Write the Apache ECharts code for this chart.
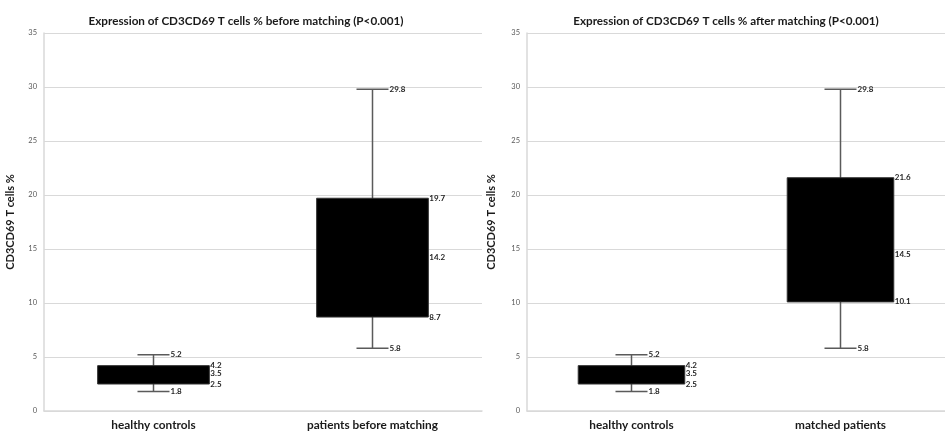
<!DOCTYPE html>
<html><head><meta charset="utf-8">
<script src="https://cdn.jsdelivr.net/npm/echarts@6/dist/echarts.min.js"></script>
<style>html,body{margin:0;padding:0;background:#fff}#c{width:945px;height:431px}</style>
</head><body><div id="c"></div>
<script>
const titles = ['Expression of CD3CD69 T cells % before matching (P<0.001)', 'Expression of CD3CD69 T cells % after matching (P<0.001)'];
const categoriesBefore = ['healthy controls', 'patients before matching'];
const categoriesAfter = ['healthy controls', 'matched patients'];
// [min, q1, median, q3, max]
const healthyStats = [1.8, 2.5, 3.5, 4.2, 5.2];
const beforeStats = [5.8, 8.7, 14.2, 19.7, 29.8];
const matchedStats = [5.8, 10.1, 14.5, 21.6, 29.8];
const yAxisName = 'CD3CD69 T cells %';
const yMin = 0, yMax = 35, yStep = 5;

const FONT = 'Lato, "Liberation Sans", sans-serif';
const chart = echarts.init(document.getElementById('c'), null, {renderer: 'canvas'});

function renderBox(params, api) {
  const cat = api.value(0);
  const v = [api.value(1), api.value(2), api.value(3), api.value(4), api.value(5)];
  const pMin = api.coord([cat, v[0]]);
  const pQ1 = api.coord([cat, v[1]]);
  const pMed = api.coord([cat, v[2]]);
  const pQ3 = api.coord([cat, v[3]]);
  const pMax = api.coord([cat, v[4]]);
  const band = api.size([1, 0])[0];
  const bw = band * 0.51;
  const cw = 32;
  const x = pMed[0];
  const lineStyle = {stroke: '#5a5a5a', lineWidth: 1.5};
  const lblStyle = (t, px, py) => ({type: 'text', x: px, y: py, style: {text: t, fill: '#1f1f1f', font: 'bold 8px ' + FONT, textAlign: 'left', textVerticalAlign: 'middle'}});
  const fmt = n => n.toFixed(1);
  return {type: 'group', children: [
    {type: 'line', shape: {x1: x, y1: pMax[1], x2: x, y2: pMin[1]}, style: lineStyle},
    {type: 'line', shape: {x1: x - cw / 2, y1: pMax[1], x2: x + cw / 2, y2: pMax[1]}, style: lineStyle},
    {type: 'line', shape: {x1: x - cw / 2, y1: pMin[1], x2: x + cw / 2, y2: pMin[1]}, style: lineStyle},
    {type: 'rect', shape: {x: x - bw / 2, y: pQ3[1], width: bw, height: pQ1[1] - pQ3[1]}, style: {fill: '#000', stroke: '#333', lineWidth: 1}},
    lblStyle(fmt(v[4]), x + cw / 2 + 1, pMax[1]),
    lblStyle(fmt(v[0]), x + cw / 2 + 1, pMin[1]),
    lblStyle(fmt(v[3]), x + bw / 2 + 1, pQ3[1]),
    lblStyle(fmt(v[2]), x + bw / 2 + 1, pMed[1]),
    lblStyle(fmt(v[1]), x + bw / 2 + 1, pQ1[1])
  ]};
}

function xAx(gi, cats) {
  return {type: 'category', gridIndex: gi, data: cats,
    axisLine: {lineStyle: {color: '#d9d9d9', width: 1.5}}, axisTick: {show: false},
    axisLabel: {color: '#1a1a1a', fontSize: 11.8, fontWeight: 'bold', fontFamily: FONT, margin: 8}};
}
function yAx(gi, gap) {
  return {type: 'value', gridIndex: gi, min: yMin, max: yMax, interval: yStep,
    name: yAxisName, nameLocation: 'middle', nameGap: gap, nameRotate: 90,
    nameTextStyle: {color: '#1a1a1a', fontSize: 11, fontWeight: 'bold', fontFamily: FONT},
    axisLine: {show: true, lineStyle: {color: '#d9d9d9', width: 1.5}}, axisTick: {show: false},
    axisLabel: {color: '#595959', fontSize: 7.5, fontFamily: FONT, margin: 7},
    splitLine: {lineStyle: {color: '#d9d9d9', width: 1.2}}};
}

chart.setOption({
  backgroundColor: '#fff',
  animation: false,
  title: [
    {text: titles[0], left: 241, top: 10, textAlign: 'center', textStyle: {fontSize: 11.7, fontWeight: 'bold', color: '#1a1a1a', fontFamily: FONT}},
    {text: titles[1], left: 721, top: 10, textAlign: 'center', textStyle: {fontSize: 11.7, fontWeight: 'bold', color: '#1a1a1a', fontFamily: FONT}}
  ],
  grid: [
    {left: 44, top: 33, width: 438, height: 378},
    {left: 527, top: 33, width: 434, height: 378}
  ],
  xAxis: [xAx(0, categoriesBefore), xAx(1, categoriesAfter)],
  yAxis: [yAx(0, 28), yAx(1, 30)],
  series: [
    {type: 'custom', xAxisIndex: 0, yAxisIndex: 0, renderItem: renderBox,
      data: [[0].concat(healthyStats), [1].concat(beforeStats)], encode: {x: 0, y: [1, 2, 3, 4, 5]}},
    {type: 'custom', xAxisIndex: 1, yAxisIndex: 1, renderItem: renderBox,
      data: [[0].concat(healthyStats), [1].concat(matchedStats)], encode: {x: 0, y: [1, 2, 3, 4, 5]}}
  ]
});
</script></body></html>
